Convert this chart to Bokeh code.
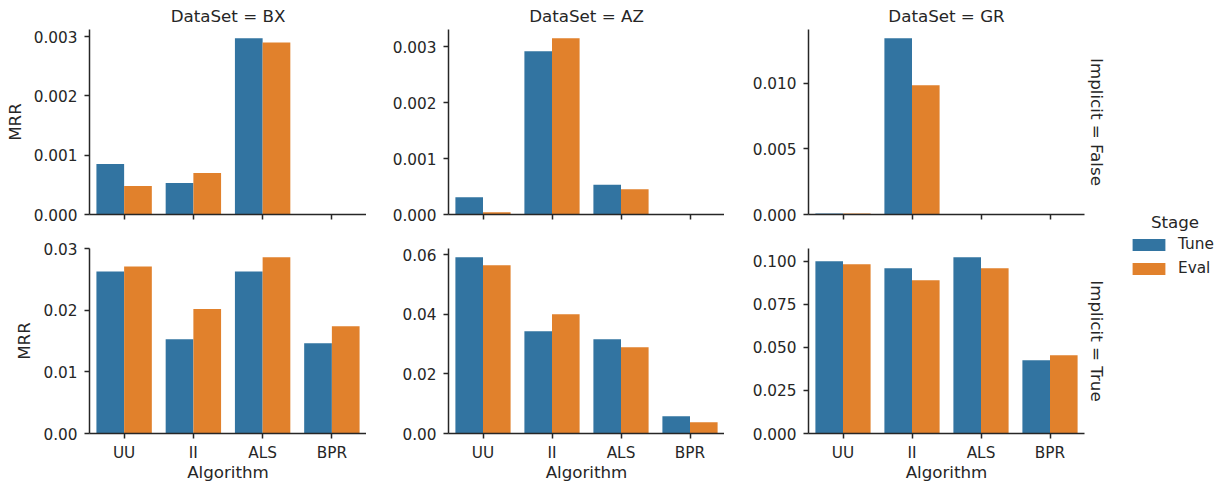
from bokeh.plotting import figure
from bokeh.models import (ColumnDataSource, Range1d, FactorRange, FixedTicker,
                          Label, Legend, LegendItem, Title)
from bokeh.transform import dodge
from bokeh.layouts import row, column
from bokeh.embed import file_html
from bokeh.resources import INLINE

# ---------------- data ----------------
algorithms = ["UU", "II", "ALS", "BPR"]
stages = ["Tune", "Eval"]
datasets = ["BX", "AZ", "GR"]
implicit_values = ["False", "True"]

# Implicit = False
bx_false_tune = [0.00085, 0.00053, 0.00297, 0.0]
bx_false_eval = [0.00048, 0.00070, 0.00290, 0.0]
az_false_tune = [0.00031, 0.00292, 0.00053, 0.0]
az_false_eval = [0.00004, 0.00315, 0.00045, 0.0]
gr_false_tune = [0.00008, 0.01343, 0.0, 0.0]
gr_false_eval = [0.00008, 0.00985, 0.0, 0.0]
# Implicit = True
bx_true_tune = [0.0263, 0.0153, 0.0263, 0.01465]
bx_true_eval = [0.0271, 0.0202, 0.0286, 0.0174]
az_true_tune = [0.0591, 0.0343, 0.0316, 0.0058]
az_true_eval = [0.0564, 0.0400, 0.0289, 0.0038]
gr_true_tune = [0.1000, 0.0959, 0.1023, 0.0426]
gr_true_eval = [0.0983, 0.0890, 0.0959, 0.0455]

# y tick values and labels
bx_false_ticks = [0.0, 0.001, 0.002, 0.003]
bx_false_tick_labels = ["0.000", "0.001", "0.002", "0.003"]
az_false_ticks = [0.0, 0.001, 0.002, 0.003]
az_false_tick_labels = ["0.000", "0.001", "0.002", "0.003"]
gr_false_ticks = [0.0, 0.005, 0.010]
gr_false_tick_labels = ["0.000", "0.005", "0.010"]
bx_true_ticks = [0.0, 0.01, 0.02, 0.03]
bx_true_tick_labels = ["0.00", "0.01", "0.02", "0.03"]
az_true_ticks = [0.0, 0.02, 0.04, 0.06]
az_true_tick_labels = ["0.00", "0.02", "0.04", "0.06"]
gr_true_ticks = [0.0, 0.025, 0.050, 0.075, 0.100]
gr_true_tick_labels = ["0.000", "0.025", "0.050", "0.075", "0.100"]

# ---------------- style ----------------
TUNE_COLOR = "#3274a1"
EVAL_COLOR = "#e1812c"
INK = "#262626"
FONT = "DejaVu Sans"
TICK_FS = "15.3px"
LABEL_FS = "16.7px"

col_left = [89, 82, 84]
col_frame = [277, 276, 276]
col_right = [0, 0, 36]
row_top = [29, 17]
row_frame = 185
row_bottom = [17, 49]

panels = {
    (0, 0): (bx_false_tune, bx_false_eval, bx_false_ticks, bx_false_tick_labels),
    (0, 1): (az_false_tune, az_false_eval, az_false_ticks, az_false_tick_labels),
    (0, 2): (gr_false_tune, gr_false_eval, gr_false_ticks, gr_false_tick_labels),
    (1, 0): (bx_true_tune, bx_true_eval, bx_true_ticks, bx_true_tick_labels),
    (1, 1): (az_true_tune, az_true_eval, az_true_ticks, az_true_tick_labels),
    (1, 2): (gr_true_tune, gr_true_eval, gr_true_ticks, gr_true_tick_labels),
}


def make_panel(r, c):
    tune, ev, ticks, tick_labels = panels[(r, c)]
    ymax = max(max(tune), max(ev)) * 1.05
    p = figure(
        x_range=FactorRange(factors=algorithms, range_padding=0, factor_padding=0),
        y_range=Range1d(0, ymax),
        frame_width=col_frame[c], frame_height=row_frame,
        min_border_left=col_left[c], min_border_right=col_right[c],
        min_border_top=row_top[r], min_border_bottom=row_bottom[r],
        toolbar_location=None, output_backend="svg",
        background_fill_color="white", border_fill_color="white",
    )
    p.outline_line_color = None
    p.grid.visible = False
    src = ColumnDataSource(dict(alg=algorithms, tune=tune, ev=ev))
    p.vbar(x=dodge("alg", -0.2, range=p.x_range), top="tune", width=0.4,
           source=src, fill_color=TUNE_COLOR, line_color=None)
    p.vbar(x=dodge("alg", 0.2, range=p.x_range), top="ev", width=0.4,
           source=src, fill_color=EVAL_COLOR, line_color=None)

    for ax in (p.xaxis[0], p.yaxis[0]):
        ax.axis_line_color = INK
        ax.axis_line_width = 1.5
        ax.major_tick_line_color = INK
        ax.major_tick_line_width = 1.5
        ax.major_tick_in = 0
        ax.major_tick_out = 5
        ax.minor_tick_line_color = None
        ax.major_label_text_font = FONT
        ax.major_label_text_font_size = TICK_FS
        ax.major_label_text_color = INK
        ax.axis_label_text_font = FONT
        ax.axis_label_text_font_size = LABEL_FS
        ax.axis_label_text_font_style = "normal"
        ax.axis_label_text_color = INK

    p.yaxis.ticker = FixedTicker(ticks=ticks)
    p.yaxis.major_label_overrides = {t: l for t, l in zip(ticks, tick_labels)}
    p.yaxis.major_label_standoff = 7

    if r == 0:
        p.xaxis.major_label_text_font_size = "0px"
        p.xaxis.major_label_text_alpha = 0
        p.xaxis.major_label_standoff = 0
        p.add_layout(Title(text="DataSet = " + datasets[c], align="center",
                           text_font=FONT, text_font_size=LABEL_FS,
                           text_font_style="normal", text_color=INK,
                           standoff=7), "above")
    else:
        p.xaxis.major_label_standoff = 5
        p.xaxis.axis_label = "Algorithm"
        p.xaxis.axis_label_standoff = -3
    if c == 0:
        p.yaxis.axis_label = "MRR"
        p.yaxis.axis_label_standoff = 6
    if c == 2:
        p.add_layout(Title(text="Implicit = " + implicit_values[r], align="center",
                           text_font=FONT, text_font_size=LABEL_FS,
                           text_font_style="normal", text_color=INK,
                           standoff=4), "right")
    return p


grid = [[make_panel(r, c) for c in range(3)] for r in range(2)]

# ---------------- legend panel ----------------
LG_W, LG_H = 102, 482
lg = figure(frame_width=LG_W, frame_height=LG_H, min_border=0,
            x_range=Range1d(0, LG_W), y_range=Range1d(0, LG_H),
            toolbar_location=None, output_backend="svg",
            x_axis_type=None, y_axis_type=None)
lg.outline_line_color = None
lg.grid.visible = False
offscreen = ColumnDataSource(dict(x=[-1000], top=[-1000]))
r_tune = lg.vbar(x="x", top="top", width=1, source=offscreen,
                 fill_color=TUNE_COLOR, line_color=None)
r_eval = lg.vbar(x="x", top="top", width=1, source=offscreen,
                 fill_color=EVAL_COLOR, line_color=None)
legend = Legend(items=[LegendItem(label=stages[0], renderers=[r_tune]),
                       LegendItem(label=stages[1], renderers=[r_eval])],
                location=(8, 205), padding=0, margin=0,
                glyph_width=41, glyph_height=15, label_height=15,
                label_standoff=9, spacing=6,
                label_text_font=FONT, label_text_font_size=TICK_FS,
                label_text_color=INK,
                border_line_color=None, background_fill_alpha=0)
lg.add_layout(legend)
lg.add_layout(Label(x=54.5, y=261, text="Stage", text_align="center",
                    text_baseline="middle", text_font=FONT,
                    text_font_size=LABEL_FS, text_color=INK))

layout = row(column(grid[0][0], grid[1][0]),
             column(grid[0][1], grid[1][1]),
             column(grid[0][2], grid[1][2]),
             lg)

open("out.html", "w").write(file_html(layout, INLINE))
